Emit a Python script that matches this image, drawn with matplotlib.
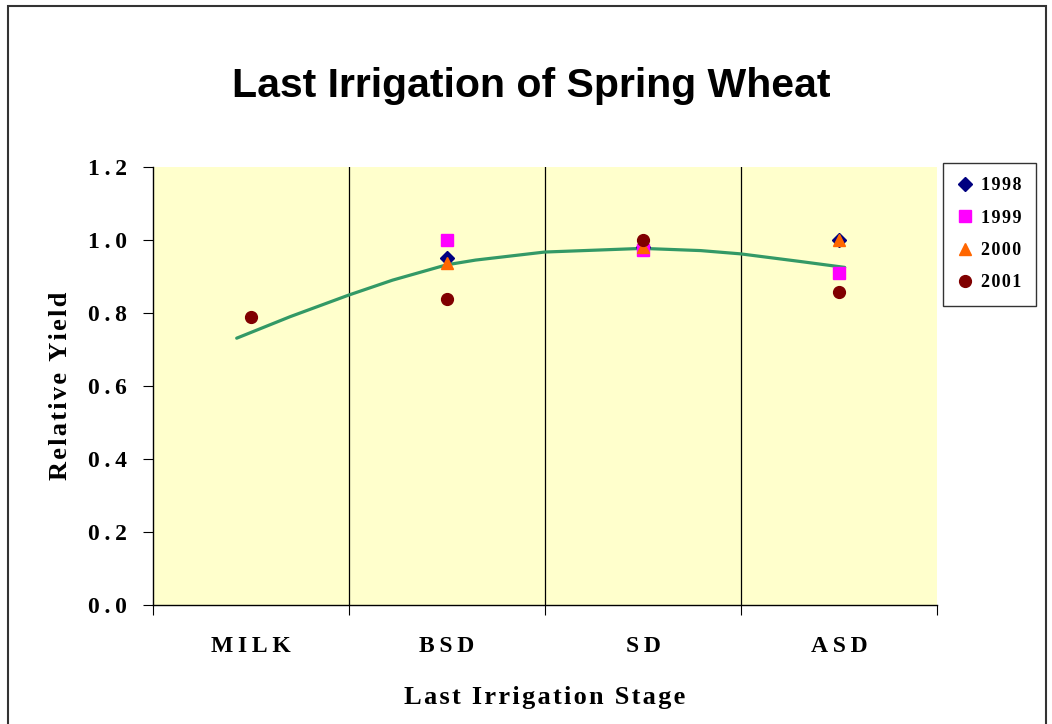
"""Last irrigation of spring wheat: relative yield by irrigation stage."""
import matplotlib

matplotlib.use("Agg")
import matplotlib.pyplot as plt  # noqa: E402
from matplotlib.patches import Rectangle  # noqa: E402

# categories on the x axis (positions 1..4)
STAGES = ["MILK", "BSD", "SD", "ASD"]

# relative yield per year, one value per stage (None = not measured)
YIELD_1998 = [None, 0.95, 0.98, 1.00]
YIELD_1999 = [None, 1.00, 0.973, 0.91]
YIELD_2000 = [None, 0.937, 0.98, 1.00]
YIELD_2001 = [0.788, 0.838, 1.00, 0.858]

# trend curve (x in stage units, y relative yield)
TREND_X = [0.927, 1.20, 1.498, 1.722, 1.998, 2.146, 2.498, 2.998, 3.294, 3.498, 3.804, 4.029]
TREND_Y = [0.731, 0.790, 0.849, 0.890, 0.932, 0.945, 0.967, 0.977, 0.971, 0.962, 0.941, 0.925]

Y_TICKS = [0.0, 0.2, 0.4, 0.6, 0.8, 1.0, 1.2]

SERIES = [
    ("1998", YIELD_1998, "D", "#000080", 7),
    ("1999", YIELD_1999, "s", "#FF00FF", 8),
    ("2000", YIELD_2000, "^", "#FF6600", 8.5),
    ("2001", YIELD_2001, "o", "#800000", 8.5),
]

SERIF = ["Liberation Serif", "DejaVu Serif"]


def spaced(text, gap="\u200a"):
    # Excel-style letter spacing
    return gap.join(text)


fig = plt.figure(figsize=(10.52, 7.24), dpi=100)
fig.patch.set_facecolor("white")
ax = fig.add_axes([153 / 1052, 1 - 605 / 724, 784 / 1052, 438 / 724])
ax.set_facecolor("#FFFFCC")

for label, vals, marker, color, ms in SERIES:
    xs = [i + 1 for i, v in enumerate(vals) if v is not None]
    ys = [v for v in vals if v is not None]
    ax.plot(xs, ys, linestyle="none", marker=marker, color=color,
            markersize=ms, label=spaced(label), zorder=4)

ax.plot(TREND_X, TREND_Y, color="#339966", linewidth=2.3, zorder=3,
        solid_capstyle="round")

ax.set_xlim(0.5, 4.5)
ax.set_ylim(0, 1.2)

# category boundaries carry tick marks and gridlines, centres carry labels
ax.set_xticks([0.5, 1.5, 2.5, 3.5, 4.5])
ax.set_xticklabels([])
ax.set_xticks([1, 2, 3, 4], minor=True)
ax.set_xticklabels([spaced(s, "\u2009") for s in STAGES], minor=True,
                   fontfamily=SERIF, fontweight="bold", fontsize=17)
ax.tick_params(axis="x", which="minor", length=0, pad=22)
ax.tick_params(axis="x", which="major", length=7, direction="out")
for xb in [1.5, 2.5, 3.5]:
    ax.axvline(xb, color="black", linewidth=0.9, zorder=2)

ax.set_yticks(Y_TICKS)
ax.set_yticklabels([spaced(f"{t:.1f}", "\u2009") for t in Y_TICKS],
                   fontfamily=SERIF, fontweight="bold", fontsize=17)
ax.tick_params(axis="y", length=7, direction="out", pad=12)

for side in ("top", "right"):
    ax.spines[side].set_visible(False)
for side in ("left", "bottom"):
    ax.spines[side].set_linewidth(1.0)

ax.set_ylabel(spaced("Relative Yield"), fontfamily=SERIF, fontweight="bold",
              fontsize=19, labelpad=11)
ax.set_xlabel(spaced("Last Irrigation Stage"), fontfamily=SERIF,
              fontweight="bold", fontsize=19, labelpad=21)

fig.text(0.505, 1 - 86 / 724, "Last Irrigation of Spring Wheat",
         ha="center", va="center", fontfamily="Liberation Sans",
         fontweight="bold", fontsize=29.5)

leg = fig.legend(loc="upper left", bbox_to_anchor=(943 / 1052, 1 - 163 / 724),
                 frameon=True, fancybox=False, edgecolor="black",
                 borderaxespad=0, handlelength=0.8, handletextpad=0.5,
                 labelspacing=0.85, borderpad=0.8,
                 prop={"family": SERIF, "weight": "bold", "size": 13})
leg.get_frame().set_linewidth(1.0)

# outer chart border
fig.add_artist(Rectangle((8 / 1052, -0.02), 1038 / 1052, 1.02 - 6 / 724,
                         transform=fig.transFigure, fill=False,
                         edgecolor="#333333", linewidth=1.5))

fig.savefig("out.png", dpi=100)
